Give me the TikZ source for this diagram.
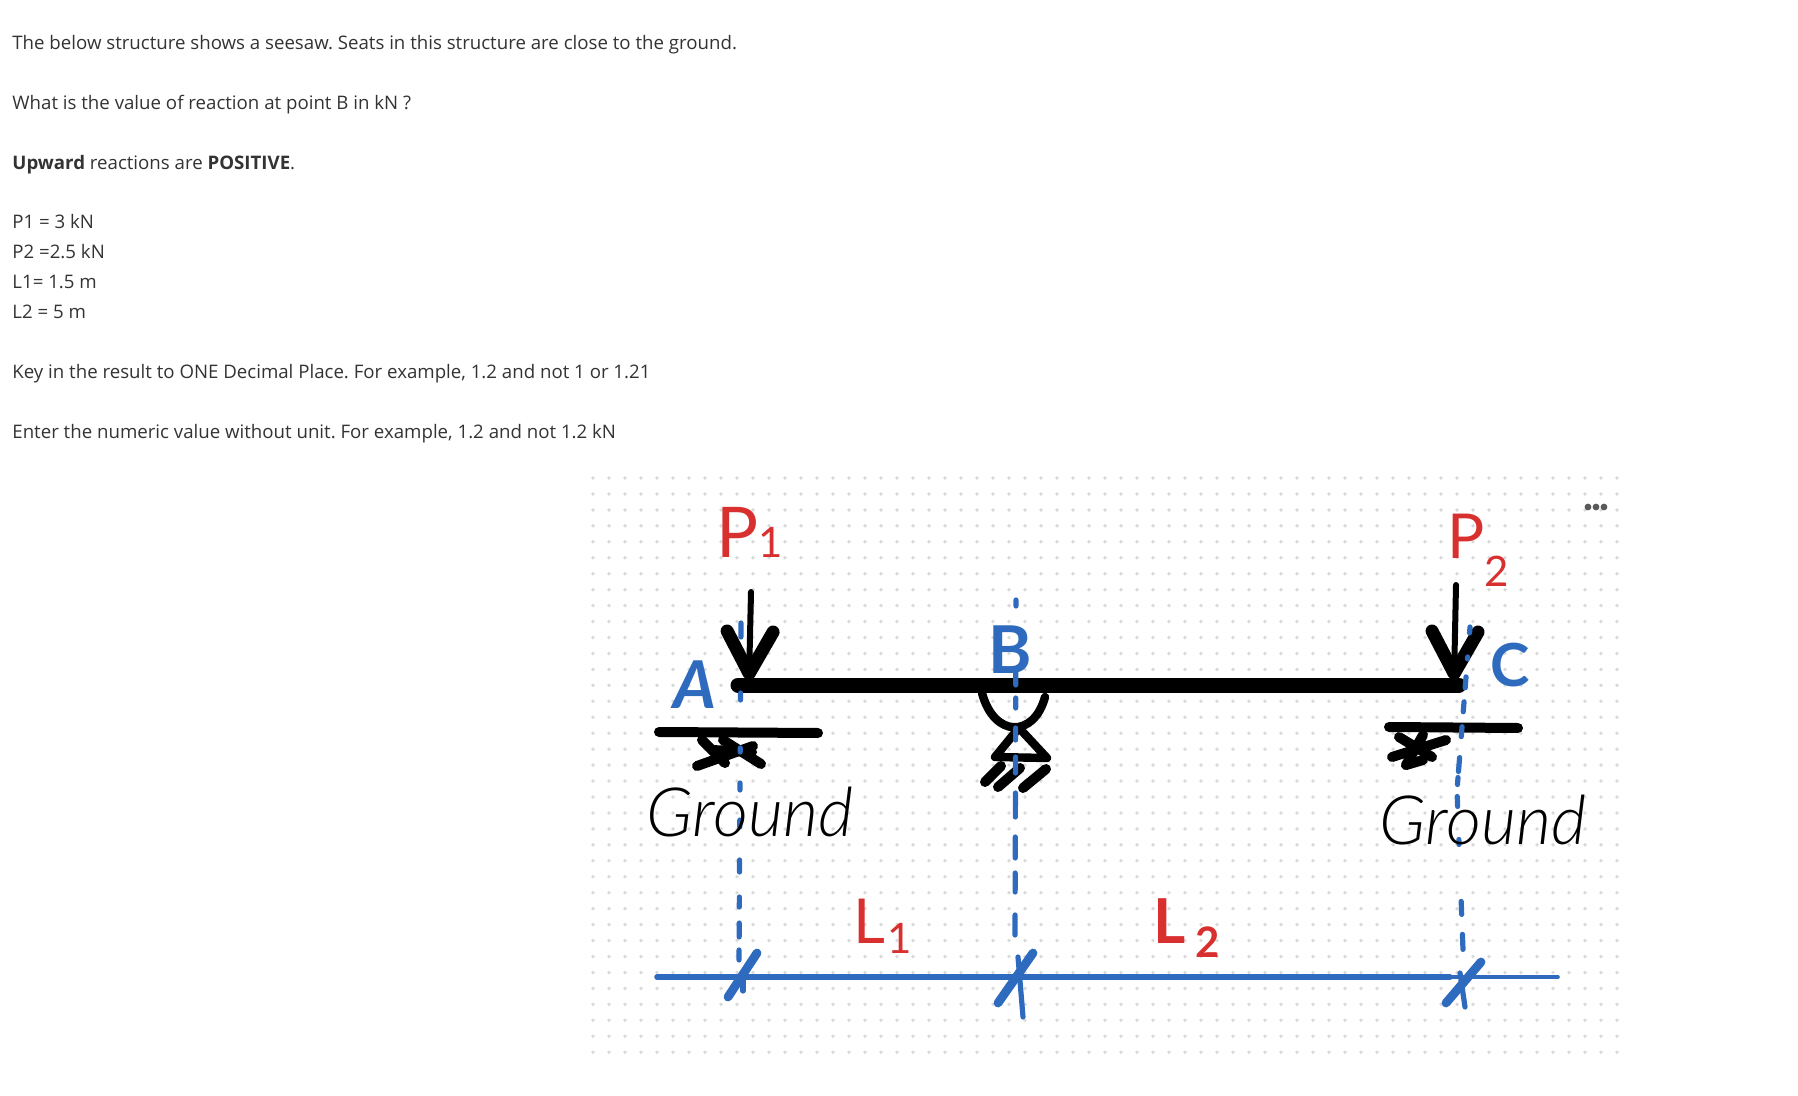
\documentclass[tikz,border=0pt]{standalone}
\usepackage{fontspec}
\setmainfont{Open Sans}
\newfontfamily\sketchfont{Lato}
\newfontfamily\thinfont{Lato Light}
\usetikzlibrary{arrows.meta}
\definecolor{penblue}{HTML}{2E6BBE}
\definecolor{penred}{HTML}{D8302F}
\definecolor{pagetext}{HTML}{333333}
\newcommand{\dropsub}[3]{\kern#1\raisebox{#2}{\fontsize{21pt}{21pt}\selectfont#3}}
\tikzset{
  question/.style={anchor=base west,inner sep=0pt,text=pagetext,font=\fontsize{9.33pt}{11pt}\selectfont},
  griddots/.style={draw=black!15,line width=1.9pt,line cap=round,dash pattern=on 0pt off 8pt},
  menudot/.style={circle,fill=black!65,inner sep=0pt,minimum size=3.4pt},
  groundline/.style={draw=black,line width=5pt,line cap=round},
  hatchline/.style={draw=black,line width=5pt,line cap=round},
  supportline/.style={draw=black,line width=4.2pt,line cap=round,line join=round},
  loadarrow/.style={draw=black,line width=3pt,line cap=round,-{Straight Barb[length=21pt,width=23pt,line width=6.5pt,round]}},
  axisdash/.style={draw=penblue,line width=2.6pt,line cap=round},
  tickline/.style={draw=penblue,line width=4.4pt,line cap=round},
  bluemark/.style={inner sep=0pt,text=penblue,font=\sketchfont\bfseries\fontsize{33pt}{33pt}\selectfont},
  redmark/.style={inner sep=0pt,text=penred,font=\sketchfont\fontsize{31pt}{31pt}\selectfont},
  groundmark/.style={inner sep=0pt,text=black,font=\thinfont\itshape\fontsize{34pt}{34pt}\selectfont}
}
\begin{document}
\frenchspacing
\begin{tikzpicture}
    \def\x{0.5pt}
    \def\y{-0.5pt}
    \useasboundingbox (0*\x, 0*\y) rectangle (1798*\x, 1096*\y);
    % question text
    \node [question] (Line0) at (12*\x, 50*\y) {The below structure shows a seesaw. Seats in this structure are close to the ground.};
    \node [question] (Line1) at (12*\x, 110*\y) {What is the value of reaction at point B in kN ?};
    \node [question] (Line2) at (12*\x, 170*\y) {\textbf{Upward} reactions are \textbf{POSITIVE}.};
    \node [question] (Line3) at (12*\x, 229*\y) {P1 = 3 kN};
    \node [question] (Line4) at (12*\x, 259*\y) {P2 =2.5 kN};
    \node [question] (Line5) at (12*\x, 289*\y) {L1= 1.5 m};
    \node [question] (Line6) at (12*\x, 319*\y) {L2 = 5 m};
    \node [question] (Line7) at (12*\x, 379*\y) {Key in the result to ONE Decimal Place. For example, 1.2 and not 1 or 1.21};
    \node [question] (Line8) at (12*\x, 438*\y) {Enter the numeric value without unit. For example, 1.2 and not 1.2 kN};
    % dotted paper
    \foreach \row in {0,...,36}
      \draw [griddots] (593*\x, {(478+\row*15.95)*\y}) -- (1618*\x, {(478+\row*15.95)*\y});
    \node [menudot] (Menu0) at (1588*\x, 507*\y) {};
    \node [menudot] (Menu1) at (1596*\x, 507*\y) {};
    \node [menudot] (Menu2) at (1604*\x, 507*\y) {};
    % supports
    \draw [groundline] (659*\x, 732*\y) -- (818*\x, 733*\y);
    \draw [hatchline] (702*\x, 740*\y) -- (725*\x, 763*\y);
    \draw [hatchline] (697*\x, 766*\y) -- (753*\x, 746*\y);
    \draw [hatchline] (723*\x, 740*\y) -- (761*\x, 764*\y);
    \draw [hatchline] (712*\x, 750*\y) -- (752*\x, 752*\y);
    \draw [groundline] (1389*\x, 727*\y) -- (1518*\x, 728*\y);
    \draw [hatchline] (1399*\x, 737*\y) -- (1432*\x, 757*\y);
    \draw [hatchline] (1392*\x, 757*\y) -- (1446*\x, 740*\y);
    \draw [hatchline] (1406*\x, 765*\y) -- (1423*\x, 735*\y);
    \draw [hatchline] (1406*\x, 765*\y) -- (1423*\x, 760*\y);
    \draw [supportline] (982*\x, 693*\y) .. controls (994*\x, 738*\y) and (1034*\x, 738*\y) .. (1045*\x, 697*\y);
    \draw [supportline] (1018*\x, 729*\y) -- (995*\x, 757*\y) -- (1047*\x, 758*\y) -- (1020*\x, 729*\y);
    \draw [hatchline] (985*\x, 782*\y) -- (1001*\x, 766*\y);
    \draw [hatchline] (998*\x, 787*\y) -- (1020*\x, 768*\y);
    \draw [hatchline] (1023*\x, 788*\y) -- (1046*\x, 769*\y);
    % beam and loads
    \coordinate (BeamA) at (738*\x, 685*\y);
    \coordinate (BeamC) at (1459*\x, 685*\y);
    \draw [line width=7.5pt,line cap=round] (BeamA) -- (BeamC);
    \coordinate (TopA) at (751*\x, 592*\y);
    \coordinate (LoadA) at (749*\x, 680*\y);
    \coordinate (TopC) at (1456*\x, 585*\y);
    \coordinate (LoadC) at (1454*\x, 680*\y);
    \path (TopA) edge [loadarrow] (LoadA);
    \path (TopC) edge [loadarrow] (LoadC);
    % dashed axes
    \coordinate (AxisA0) at (741*\x, 623*\y);
    \coordinate (AxisA1) at (739*\x, 960*\y);
    \coordinate (AxisB0) at (1016*\x, 600*\y);
    \coordinate (AxisB1) at (1015*\x, 935*\y);
    \coordinate (AxisC0) at (1470*\x, 627*\y);
    \coordinate (AxisC1) at (1457*\x, 790*\y);
    \coordinate (AxisC2) at (1463*\x, 950*\y);
    \draw [axisdash,dash pattern=on 7pt off 28pt on 3.5pt off 24pt on 2pt off 15.5pt on 3.5pt off 15pt on 3.5pt off 16.5pt on 6pt off 12.5pt on 5pt off 8pt on 7pt off 6.5pt on 5pt off 20pt] (AxisA0) -- (AxisA1);
    \draw [axisdash,dash pattern=on 3pt off 33pt on 6.5pt off 6.5pt on 5pt off 10pt on 6pt off 8.5pt on 8pt off 10pt on 12pt off 10pt on 10.5pt off 7.5pt on 9.5pt off 11.5pt on 10pt off 20pt] (AxisB0) -- (AxisB1);
    \draw [axisdash,dash pattern=on 3pt off 12pt on 1pt off 9pt on 5.5pt off 7pt on 5pt off 7.5pt on 5pt off 10.5pt on 7pt off 3pt on 3.5pt off 6pt on 5pt off 16.5pt on 2.5pt off 28.5pt on 6.5pt off 10pt on 7.5pt off 20pt] (AxisC0) -- (AxisC1) -- (AxisC2);
    \coordinate (AxisLeft) at (657*\x, 977*\y);
    \coordinate (AxisMid) at (1450*\x, 977*\y);
    \coordinate (AxisRight) at (1558*\x, 977*\y);
    \draw [draw=penblue,line width=2.8pt,line cap=round] (AxisLeft) -- (AxisMid);
    \draw [draw=penblue,line width=1.8pt,line cap=round] (AxisMid) -- (AxisRight);
    \draw [tickline] (757*\x, 953*\y) -- (728*\x, 997*\y);
    \draw [axisdash] (743*\x, 980*\y) -- (743*\x, 991*\y);
    \draw [tickline] (1033*\x, 953*\y) -- (998*\x, 1003*\y);
    \draw [axisdash] (1018*\x, 957*\y) -- (1023*\x, 1017*\y);
    \draw [tickline] (1481*\x, 962*\y) -- (1446*\x, 1003*\y);
    \draw [axisdash] (1460*\x, 973*\y) -- (1465*\x, 1007*\y);
    % labels
    \node [bluemark] (PointA) at (695*\x, 685*\y) {\itshape A};
    \node [bluemark] (PointB) at (1010*\x, 650*\y) {B};
    \node [bluemark,scale=0.9] (PointC) at (1510*\x, 665*\y) {C};
    \node [redmark,font=\sketchfont\fontsize{35pt}{35pt}\selectfont,anchor=base west] (LabelP1) at (716*\x, 557*\y) {P\dropsub{0pt}{0pt}{1}};
    \node [redmark,anchor=base west] (LabelP2) at (1447*\x, 558*\y) {P\dropsub{0pt}{-14pt}{2}};
    \node [redmark,anchor=base west] (LabelL1) at (853*\x, 943*\y) {L\dropsub{1pt}{-5pt}{1}};
    \node [redmark,font=\sketchfont\bfseries\fontsize{31pt}{31pt}\selectfont,anchor=base west] (LabelL2) at (1153*\x, 943*\y) {L\dropsub{5pt}{-7pt}{2}};
    \node [groundmark] (GroundA) at (750*\x, 812*\y) {Ground};
    \node [groundmark] (GroundC) at (1483*\x, 820*\y) {Ground};
  \end{tikzpicture}
\end{document}
